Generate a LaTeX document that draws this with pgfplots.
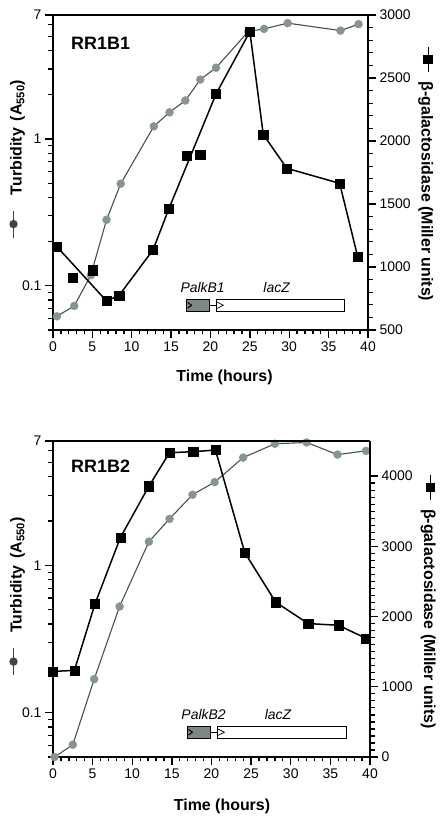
\documentclass[border=0pt]{standalone}
\usepackage{fontspec}
\setmainfont{Liberation Sans}
\usepackage{pgfplots}
\pgfplotsset{compat=1.18}
\definecolor{circ}{HTML}{879494}
\definecolor{gline}{HTML}{4A5050}
\definecolor{legc}{HTML}{3E4646}
\definecolor{genegray}{HTML}{7C8884}

\pgfplotstableread{
x y
0.5 0.062
2.7 0.073
4.8 0.118
6.8 0.282
8.6 0.496
12.8 1.22
14.8 1.52
16.8 1.83
18.7 2.54
20.7 3.06
24.8 5.40
26.8 5.63
29.8 6.16
36.5 5.48
38.8 6.06
}\turbA

\pgfplotstableread{
x y
0.5 1161
2.5 918
5.0 974
6.8 730
8.4 775
12.7 1135
14.7 1460
17.0 1881
18.7 1892
20.7 2373
25.0 2868
26.7 2051
29.7 1783
36.4 1664
38.7 1079
}\galA

\pgfplotstableread{
x y
0.5 1161
6.8 730
8.4 775
12.7 1135
14.7 1460
20.7 2373
25.0 2868
26.7 2051
29.7 1783
36.4 1664
38.7 1079
}\galAline

\pgfplotstableread{
x y
0.2 0.050
2.5 0.0606
5.2 0.169
8.4 0.526
12.1 1.45
14.7 2.07
17.6 3.02
20.4 3.68
24.0 5.40
28.0 6.70
32.0 6.84
35.9 5.66
39.5 6.00
}\turbB

\pgfplotstableread{
x y
0.0 1219
2.7 1233
5.3 2181
8.5 3124
12.1 3857
14.7 4333
17.7 4348
20.5 4371
24.2 2910
28.1 2205
32.2 1900
36.0 1876
39.5 1690
}\galB

\pgfplotsset{
  myBase/.style={scale only axis, anchor=south west, clip=false,
    xmin=0, xmax=40, tick align=outside,
    major tick length=8bp, minor tick length=4.5bp,
    tick style={draw=black, line width=1.3bp},
    axis line style={line width=1.1bp},
    ticklabel style={font=\fontsize{14}{16}\selectfont},
    /pgf/number format/assume math mode=true,
    /pgf/number format/1000 sep={},
  },
  myLeft/.style={myBase, axis x line*=bottom, axis y line*=left,
    xtick={0,5,...,40}, minor x tick num=4,
    ytick={0.1,1,7}, yticklabels={0.1,1,7},
    minor ytick={0.05,0.06,0.07,0.08,0.09,0.2,0.3,0.4,0.5,0.6,0.7,0.8,0.9,2,3,4,5,6},
  },
  myRight/.style={myBase, axis x line*=top, xtick=\empty, axis y line*=right},
  turbline/.style={gline, line width=1.1bp, no marks},
  turbmark/.style={only marks, mark=*, mark size=4bp, mark options={fill=circ, draw=circ}},
  galline/.style={black, line width=1.5bp, no marks},
  galmark/.style={only marks, mark=square*, mark size=4.6bp, mark options={fill=black, draw=black}},
}

\newcommand{\gene}[1]{%
  \draw[black, line width=0.8bp] (axis cs:19.9,0.0737) -- (axis cs:20.8,0.0737);
  \draw[black, line width=0.8bp, fill=genegray] (axis cs:16.9,0.067) rectangle (axis cs:19.9,0.081);
  \draw[black, line width=1bp] ([xshift=1.5bp,yshift=2.8bp]axis cs:16.9,0.0737) -- ([xshift=5.5bp]axis cs:16.9,0.0737) -- ([xshift=1.5bp,yshift=-2.8bp]axis cs:16.9,0.0737);
  \draw[black, line width=0.8bp, fill=white] (axis cs:20.8,0.067) rectangle (axis cs:37.0,0.081);
  \draw[black, line width=0.7bp] ([yshift=3.3bp]axis cs:20.8,0.0737) -- ([xshift=6.5bp]axis cs:20.8,0.0737) -- ([yshift=-3.3bp]axis cs:20.8,0.0737);
  \node[anchor=base, inner sep=0pt, font=\itshape\fontsize{14}{16}\selectfont] at (axis cs:19.0,0.0895) {#1};
  \node[anchor=base, inner sep=0pt, font=\itshape\fontsize{14}{16}\selectfont] at (axis cs:28.4,0.0895) {lacZ};
}

\newsavebox\circsym
\newsavebox\sqsym

\begin{document}
\sbox\circsym{\tikz[baseline=-8.2bp]{\draw[legc,line width=1bp] (0,0)--(27bp,0); \fill[legc] (13.5bp,0) circle (4.2bp);}}%
\sbox\sqsym{\tikz[baseline=-6.5bp]{\draw[black,line width=1bp] (0,0)--(25bp,0); \fill[black] (8bp,-4.6bp) rectangle (17bp,4.6bp);}}%
\begin{tikzpicture}
\useasboundingbox (0,0) rectangle (444bp,820bp);

% ---------- Panel 1 ----------
\begin{axis}[myLeft, ymode=log, ymin=0.05, ymax=7, width=315bp, height=315bp, at={(53bp,490bp)}]
  \gene{PalkB1}
  \addplot[turbline] table {\turbA};
  \addplot[turbmark] table {\turbA};
\end{axis}
\begin{axis}[myRight, width=315bp, height=315bp, at={(53bp,490bp)}, ymin=500, ymax=3000,
  ytick={500,1000,...,3000}, minor y tick num=4]
  \addplot[galline] table {\galAline};
  \addplot[galmark] table {\galA};
\end{axis}

\node[anchor=west, inner sep=0pt, font=\bfseries\fontsize{18}{20}\selectfont] at (71bp,777bp) {RR1B1};
\node[anchor=center, inner sep=0pt, font=\bfseries\fontsize{16}{18}\selectfont] at (224.5bp,443bp) {Time (hours)};
\node[rotate=90, anchor=base, inner sep=0pt, font=\bfseries\fontsize{16}{18}\selectfont] at (21.7bp,661bp)
  {\usebox\circsym\hspace{15bp}Turbidity\hspace{7bp}(A\textsubscript{550})};
\node[rotate=-90, anchor=base, inner sep=0pt, font=\bfseries\fontsize{16}{18}\selectfont] at (421.5bp,646bp)
  {\usebox\sqsym\hspace{9bp}β-galactosidase (Miller units)};

% ---------- Panel 2 ----------
\begin{axis}[myLeft, ymode=log, ymin=0.05, ymax=7, at={(53bp,63bp)}, width=317bp, height=316bp]
  \gene{PalkB2}
  \addplot[turbline] table {\turbB};
  \addplot[turbmark] table {\turbB};
\end{axis}
\begin{axis}[myRight, at={(53bp,63bp)}, width=317bp, height=316bp, ymin=0, ymax=4500,
  ytick={0,1000,...,4000}, minor y tick num=9]
  \addplot[galline] table {\galB};
  \addplot[galmark] table {\galB};
\end{axis}

\node[anchor=west, inner sep=0pt, font=\bfseries\fontsize{18}{20}\selectfont] at (71bp,353.5bp) {RR1B2};
\node[anchor=center, inner sep=0pt, font=\bfseries\fontsize{16}{18}\selectfont] at (222bp,14bp) {Time (hours)};
\node[rotate=90, anchor=base, inner sep=0pt, font=\bfseries\fontsize{16}{18}\selectfont] at (21.7bp,223.5bp)
  {\usebox\circsym\hspace{15bp}Turbidity\hspace{7bp}(A\textsubscript{550})};
\node[rotate=-90, anchor=base, inner sep=0pt, font=\bfseries\fontsize{16}{18}\selectfont] at (424bp,218.5bp)
  {\usebox\sqsym\hspace{9bp}β-galactosidase (Miller units)};
\end{tikzpicture}
\end{document}
